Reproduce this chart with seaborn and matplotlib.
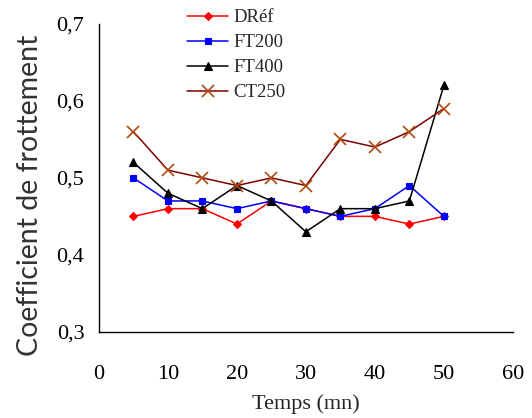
import numpy as np
import pandas as pd
import matplotlib
matplotlib.use("Agg")
import matplotlib.pyplot as plt
import seaborn as sns
from matplotlib.ticker import MultipleLocator, FuncFormatter

temps = [5, 10, 15, 20, 25, 30, 35, 40, 45, 50]
dref = [0.45, 0.46, 0.46, 0.44, 0.47, 0.46, 0.45, 0.45, 0.44, 0.45]
ft200 = [0.50, 0.47, 0.47, 0.46, 0.47, 0.46, 0.45, 0.46, 0.49, 0.45]
ft400 = [0.52, 0.48, 0.46, 0.49, 0.47, 0.43, 0.46, 0.46, 0.47, 0.62]
ct250 = [0.56, 0.51, 0.50, 0.49, 0.50, 0.49, 0.55, 0.54, 0.56, 0.59]
series_names = ["DRéf", "FT200", "FT400", "CT250"]

sns.set_style("white")
plt.rcParams['font.family'] = ['Liberation Serif', 'DejaVu Serif']

fig = plt.figure(figsize=(5.32, 4.18), dpi=100)
ax = fig.add_axes([0.186, 0.206, 0.778, 0.737])

styles = {
    "DRéf": dict(color="#FF0000", marker="D", ms=4, mfc="#FF0000", mec="#FF0000"),
    "FT200": dict(color="#0000FF", marker="s", ms=4.5, mfc="#0000FF", mec="#0000FF"),
    "FT400": dict(color="#000000", marker="^", ms=5.5, mfc="#000000", mec="#000000"),
    "CT250": dict(color="#800000", marker="x", ms=8, mfc="#B04A10", mec="#B04A10", mew=1.2),
}
for name, vals in zip(series_names, [dref, ft200, ft400, ct250]):
    df = pd.DataFrame({"t": temps, "v": vals})
    st = styles[name]
    sns.lineplot(data=df, x="t", y="v", ax=ax, color=st["color"], lw=1.1,
                 marker=st["marker"], markersize=st["ms"],
                 markerfacecolor=st["mfc"], markeredgecolor=st["mec"],
                 markeredgewidth=st.get("mew", 0.8), label=name)

ax.set_xlim(0, 60)
ax.set_ylim(0.3, 0.7)
ax.xaxis.set_major_locator(MultipleLocator(10))
ax.xaxis.set_minor_locator(MultipleLocator(5))
ax.yaxis.set_major_locator(MultipleLocator(0.1))
ax.yaxis.set_minor_locator(MultipleLocator(0.05))
ax.yaxis.set_major_formatter(FuncFormatter(lambda v, p: f"{v:.1f}".replace(".", ",")))

for s in ["top", "right"]:
    ax.spines[s].set_visible(False)
for s in ["left", "bottom"]:
    ax.spines[s].set_color("black")
    ax.spines[s].set_linewidth(1.0)

ax.tick_params(axis="both", which="major", direction="inout", length=9, width=1,
               labelsize=16, colors="black")
ax.tick_params(axis="both", which="minor", direction="in", length=4.5, width=1, colors="black")
ax.tick_params(axis="y", which="major", pad=6)
ax.tick_params(axis="x", which="major", pad=19)

ax.set_xlabel("Temps (mn)", fontsize=16, labelpad=8)
ax.set_ylabel("Coefficient de frottement", fontsize=20.5, family=["Lato", "DejaVu Sans"],
              color="#333333")
ax.yaxis.set_label_coords(-0.135, 0.443)

leg = ax.legend(loc="upper left", bbox_to_anchor=(0.213, 1.047), frameon=False,
                fontsize=13.5, handlelength=2.2, handletextpad=0.25, labelspacing=0.42,
                borderaxespad=0, borderpad=0)

fig.savefig("out.png", dpi=100)
